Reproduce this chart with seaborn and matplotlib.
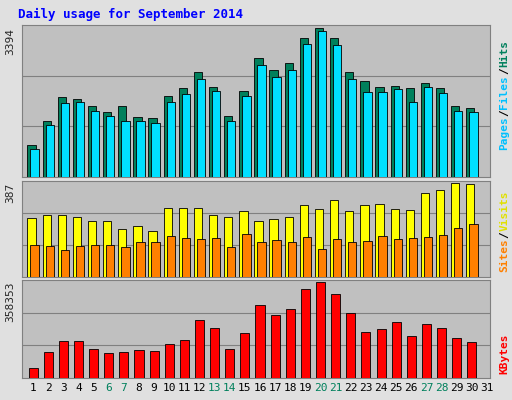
import matplotlib
matplotlib.use("Agg")
import matplotlib.pyplot as plt
import seaborn as sns
import pandas as pd
import numpy as np

days = list(range(1, 32))
hits = [739,1270,1824,1778,1616,1478,1616,1362,1339,1847,2032,2401,2055,1385,1963,2701,2447,2586,3163,3394,3163,2401,2193,2055,2078,2032,2147,2032,1616,1570,0]
files = [646,1178,1686,1709,1501,1385,1270,1270,1224,1709,1893,2240,1963,1270,1847,2540,2286,2447,3025,3325,3002,2240,1940,1940,2009,1709,2055,1916,1501,1478,0]
visits = [241,254,254,245,232,232,198,211,189,284,284,284,254,245,271,232,237,245,297,280,318,271,297,301,280,275,344,357,387,383,0]
sites = [133,129,112,129,133,133,125,142,142,168,159,155,159,125,176,142,151,142,163,116,155,142,146,168,155,159,163,172,202,219,0]
kbytes = [38950,97375,136325,136325,109060,93480,97375,105165,101270,128535,140220,218120,186960,109060,167485,272650,233700,257070,331075,358353,311600,241490,171380,183065,210330,155800,202540,186960,148010,132430,0]
weekend = {6,7,13,14,20,21,27,28}

sns.set_style("white")
plt.rcParams['font.family'] = ['DejaVu Sans Mono']
fig = plt.figure(figsize=(5.12, 4.0), dpi=100, facecolor="#E0E0E0")
L, W = 0.043, 0.914
axes = [fig.add_axes([L, 0.5575, W, 0.38]),
        fig.add_axes([L, 0.3075, W, 0.24]),
        fig.add_axes([L, 0.055, W, 0.245])]

def panel(ax, series, colors, ymax, label):
    ax.set_facecolor("#C0C0C0")
    off = [-0.1, 0.1]
    for i, (vals, col) in enumerate(zip(series, colors)):
        x = np.array(days, float) + off[i] if len(series) > 1 else np.array(days, float)
        df = pd.DataFrame({"x": x, "y": vals})
        sns.barplot(data=df, x="x", y="y", native_scale=True, color=col,
                    width=0.55 if len(series) > 1 else 0.6, edgecolor="black",
                    linewidth=0.6, saturation=1, ax=ax, zorder=3)
    top = ymax * 1.02
    ax.set_ylim(0, top)
    ax.set_xlim(0.27, 31.2)
    ax.set_yticks([top / 3, 2 * top / 3])
    ax.set_yticklabels([])
    ax.grid(axis="y", color="#808080", linewidth=0.8, zorder=0)
    ax.tick_params(length=0)
    ax.set_xlabel(""); ax.set_ylabel("")
    for s in ax.spines.values():
        s.set_color("#808080")
    ax.text(-0.025, 0.98, label, transform=ax.transAxes, rotation=90,
            ha="center", va="top", fontsize=8)

panel(axes[0], [hits, files], ["#00805c", "#00e0ff"], 3394, "3394")
panel(axes[1], [visits, sites], ["#ffff00", "#ff8000"], 387, "387")
panel(axes[2], [kbytes], ["#ff0000"], 358353, "358353")
for ax in axes[:2]:
    ax.set_xticklabels([])
axes[2].set_xticks(days)
axes[2].set_xticklabels([str(d) for d in days], fontsize=8)
for t, d in zip(axes[2].get_xticklabels(), days):
    t.set_color("#00805c" if d in weekend else "black")

fig.text(0.035, 0.965, "Daily usage for September 2014", color="#0000ff",
         fontsize=9, fontweight="bold", va="center")

CH = 0.0172
def side(y0, parts):
    y = y0
    for p, c in parts:
        fig.text(0.985, y, p, color=c, rotation=90, fontsize=8,
                 fontweight="bold", ha="center", va="bottom")
        y += len(p) * CH
side(0.625, [("Pages", "#00c0ff"), ("/", "#000000"), ("Files", "#00c0ff"), ("/", "#000000"), ("Hits", "#00805c")])
side(0.32, [("Sites", "#ff8000"), ("/", "#000000"), ("Visits", "#e0e000")])
side(0.065, [("KBytes", "#ff0000")])

fig.savefig("out.png", dpi=100, facecolor=fig.get_facecolor())
